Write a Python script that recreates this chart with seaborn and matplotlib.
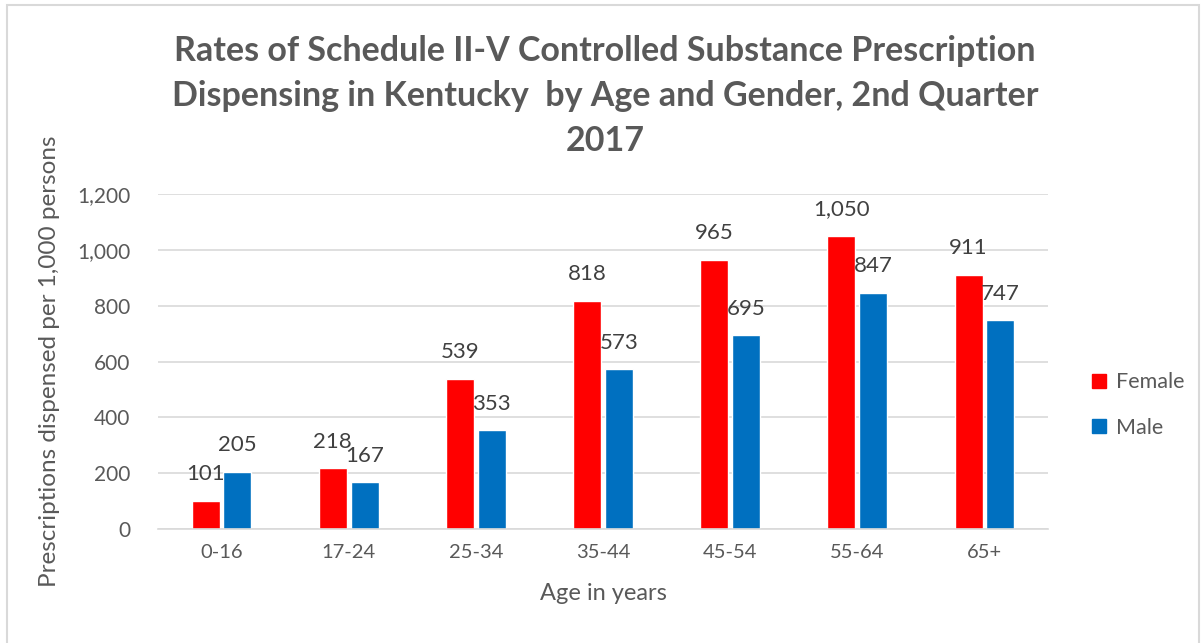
import pandas as pd
import matplotlib
matplotlib.use('Agg')
import matplotlib.pyplot as plt
import seaborn as sns
from matplotlib.patches import Rectangle
from matplotlib.lines import Line2D

age_groups = ['0-16', '17-24', '25-34', '35-44', '45-54', '55-64', '65+']
female = [101, 218, 539, 818, 965, 1050, 911]
male = [205, 167, 353, 573, 695, 847, 747]
genders = ['Female', 'Male']
colors = {'Female': '#FF0000', 'Male': '#0070C0'}

df = pd.DataFrame({
    'age': age_groups * 2,
    'gender': ['Female'] * len(age_groups) + ['Male'] * len(age_groups),
    'rate': female + male,
})

sns.set_theme(style='white')
plt.rcParams['font.family'] = ['Lato', 'DejaVu Sans']
grey = '#595959'

fig = plt.figure(figsize=(12.02, 6.43), dpi=100)
fig.patch.set_facecolor('white')
ax = fig.add_axes([158 / 1202, 1 - 529 / 643, 890 / 1202, 335 / 643])

sns.barplot(data=df, x='age', y='rate', hue='gender', hue_order=genders,
            palette=colors, width=0.5, gap=0.12, saturation=1, ax=ax,
            legend=False)

ax.set_ylim(0, 1200)
ax.set_yticks(range(0, 1201, 200))
ax.set_yticklabels([f'{v:,}' for v in range(0, 1201, 200)], fontsize=15, color=grey)
ax.set_xlim(-0.5, len(age_groups) - 0.5)
ax.tick_params(axis='x', labelsize=14.5, colors=grey, length=0, pad=11)
ax.tick_params(axis='y', length=0, pad=20)
ax.yaxis.grid(True, color='#D9D9D9', linewidth=1.2)
ax.set_axisbelow(True)
for s in ['top', 'right', 'left']:
    ax.spines[s].set_visible(False)
ax.spines['bottom'].set_color('#D9D9D9')
ax.spines['bottom'].set_linewidth(1.2)

ax.set_xlabel('Age in years', fontsize=17, color=grey, labelpad=16)
ax.set_ylabel('Prescriptions dispensed per 1,000 persons', fontsize=17.5, color=grey, labelpad=12)

for container, g in zip(ax.containers, genders):
    for bar in container:
        h = bar.get_height()
        ax.annotate(f'{int(h):,}', (bar.get_x() + bar.get_width() / 2, h),
                    xytext=(0, 19), textcoords='offset points',
                    ha='center', va='center', fontsize=16, color='#404040')

handles = [Line2D([0], [0], marker='s', linestyle='', markersize=10,
                  markerfacecolor=colors[g], markeredgecolor=colors[g]) for g in genders]
fig.legend(handles, genders, loc='center left', bbox_to_anchor=(1069 / 1202, 1 - 405 / 643),
           frameon=False, fontsize=15.5, labelcolor=grey, labelspacing=1.2,
           handletextpad=0.3, handlelength=1.0)

fig.text(605 / 1202, 1 - 96 / 643,
         'Rates of Schedule II-V Controlled Substance Prescription\n'
         'Dispensing in Kentucky  by Age and Gender, 2nd Quarter\n2017',
         ha='center', va='center', fontsize=24.5, fontweight='bold', color=grey,
         linespacing=1.5)

fig.patches.append(Rectangle((7 / 1202, -0.05), 1192 / 1202, 1.05 - 5 / 643,
                             transform=fig.transFigure, fill=False,
                             edgecolor='#D9D9D9', linewidth=1.5))

plt.savefig('out.png', dpi=100, facecolor='white')
plt.close()
